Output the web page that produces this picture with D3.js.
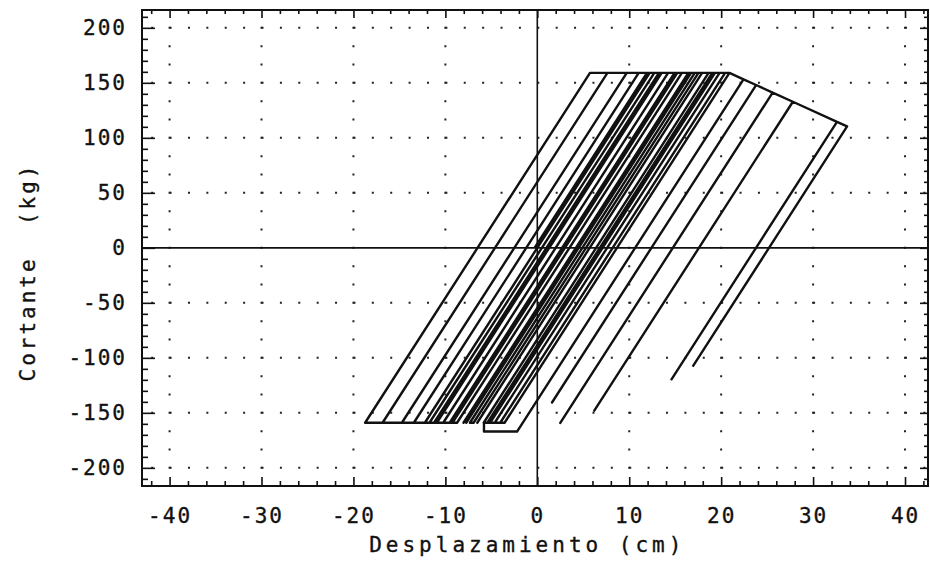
<!DOCTYPE html>
<html>
<head>
<meta charset="utf-8">
<script src="https://cdn.jsdelivr.net/npm/d3@7"></script>
<style>
    body { margin: 0; background: #fff; }
    text { font-family: "DejaVu Sans Mono", monospace; fill: #111; stroke: #111; stroke-width: 0.35; }
    .axis path { display: none; }
    .axis line { stroke: #111; stroke-width: 1.6; }
</style>
</head>
<body>
<div id="chart"></div>
<script>
// tick labels
var xTicks = [-40, -30, -20, -10, 0, 10, 20, 30, 40];
var yTicks = [-200, -150, -100, -50, 0, 50, 100, 150, 200];

// fuerza-desplazamiento (cm, kg), vertices in time order
var ciclo = [
    [-0.3, 0], [11.93, 159], [13.53, 159], [-10.93, -159], [-11.73, -159],
    [12.73, 159], [14.93, 159], [-9.53, -159], [-14.73, -159],
    [9.73, 159], [11.03, 159], [-13.43, -159], [-16.83, -159],
    [7.63, 159], [-16.83, -159], [-18.73, -159], [5.73, 159], [12.23, 159],
    [-12.23, -159], [12.23, 159], [15.73, 159], [-8.73, -159], [-11.23, -159],
    [13.23, 159], [15.23, 159], [-9.23, -159], [-10.23, -159],
    [14.23, 159], [16.43, 159], [-8.03, -159], [16.43, 159], [16.73, 159],
    [-7.73, -159], [16.73, 159], [17.53, 159], [-6.93, -159], [-7.33, -159],
    [17.13, 159], [17.93, 159], [-6.53, -159], [17.93, 159], [19.03, 159],
    [-5.43, -159], [-5.83, -159], [18.63, 159], [19.33, 159],
    [-5.13, -159], [19.33, 159], [20.43, 159], [-4.03, -159], [-4.63, -159],
    [19.83, 159], [20.9, 159], [22.43, 153.2], [20.9, 159],
    [-3.56, -159], [-5.8, -159], [-5.8, -167], [-2.2, -167],
    [22.43, 153.2], [23.8, 148.0], [1.6, -140.6], [23.8, 148.0],
    [25.6, 141.1], [2.5, -159.2], [25.6, 141.1], [27.8, 132.8],
    [6.2, -148.0], [27.8, 132.8], [32.6, 114.5], [14.6, -119.5],
    [32.6, 114.5], [33.7, 110.4], [16.9, -108.0]
];

var margin = { top: 10, left: 142, bottom: 86, right: 2 },
    width = 930 - margin.left - margin.right,
    height = 572 - margin.top - margin.bottom;

var svg = d3.select('#chart').append('svg')
    .attr('width', width + margin.left + margin.right)
    .attr('height', height + margin.top + margin.bottom)
    .append('g')
    .attr('transform', 'translate(' + margin.left + ', ' + margin.top + ')');

var x = d3.scaleLinear().domain([-43.0, 42.5]).range([0, width]);
var y = d3.scaleLinear().domain([-216.5, 216.2]).range([height, 0]);

// dotted grid
svg.selectAll('.hgrid')
    .data(yTicks.filter(d => d !== 0))
    .enter()
    .append('line')
    .attr('class', 'hgrid')
    .attr('x1', x(-42)).attr('x2', x(42.5))
    .attr('y1', d => y(d)).attr('y2', d => y(d))
    .style('stroke', '#222')
    .style('stroke-width', 2)
    .style('stroke-dasharray', '2,' + (x(2) - x(0) - 2));

svg.selectAll('.vgrid')
    .data(xTicks.filter(d => d !== 0))
    .enter()
    .append('line')
    .attr('class', 'vgrid')
    .attr('x1', d => x(d)).attr('x2', d => x(d))
    .attr('y1', y(200) - 1).attr('y2', y(-216))
    .style('stroke', '#222')
    .style('stroke-width', 2)
    .style('stroke-dasharray', '2,' + (y(0) - y(50 / 3) - 2));

// zero lines
svg.append('line')
    .attr('x1', 0).attr('x2', width)
    .attr('y1', y(0)).attr('y2', y(0))
    .style('stroke', '#111').style('stroke-width', 1.6);
svg.append('line')
    .attr('x1', x(0)).attr('x2', x(0))
    .attr('y1', 0).attr('y2', height)
    .style('stroke', '#111').style('stroke-width', 1.6);

// minor / major ticks on the four sides
var xMinor = d3.range(-42, 43, 2).filter(d => d % 10 !== 0);
var yMinor = d3.range(-210, 211, 10).filter(d => d % 50 !== 0);

function ticks(axis, tr) {
    svg.append('g').attr('class', 'axis').attr('transform', tr).call(axis)
        .selectAll('text').remove();
}
ticks(d3.axisBottom(x).tickValues(xMinor).tickSize(-5), 'translate(0,' + height + ')');
ticks(d3.axisBottom(x).tickValues(xTicks).tickSize(-9), 'translate(0,' + height + ')');
ticks(d3.axisTop(x).tickValues(xMinor).tickSize(-4), 'translate(0,0)');
ticks(d3.axisTop(x).tickValues(xTicks).tickSize(-8), 'translate(0,0)');
ticks(d3.axisLeft(y).tickValues(yMinor).tickSize(-6), 'translate(0,0)');
ticks(d3.axisLeft(y).tickValues(yTicks).tickSize(-13), 'translate(0,0)');
ticks(d3.axisRight(y).tickValues(yMinor).tickSize(-4), 'translate(' + width + ',0)');
ticks(d3.axisRight(y).tickValues(yTicks).tickSize(-8), 'translate(' + width + ',0)');

// tick labels
var xAxis = d3.axisBottom(x).tickValues(xTicks).tickSize(0).tickPadding(22)
    .tickFormat(d => String(d));
svg.append('g')
    .attr('class', 'axis')
    .attr('transform', 'translate(0,' + height + ')')
    .call(xAxis)
    .selectAll('text')
    .style('font-size', '21px')
    .style('letter-spacing', '2px');

var yAxis = d3.axisLeft(y).tickValues(yTicks).tickSize(0).tickPadding(15)
    .tickFormat(d => String(d));
svg.append('g')
    .attr('class', 'axis')
    .call(yAxis)
    .selectAll('text')
    .style('font-size', '21px')
    .style('letter-spacing', '2px');

// frame
svg.append('rect')
    .attr('x', 0).attr('y', 0)
    .attr('width', width).attr('height', height)
    .style('fill', 'none')
    .style('stroke', '#111')
    .style('stroke-width', 2);

// hysteresis curve
var line = d3.line()
    .x(d => x(d[0]))
    .y(d => y(d[1]));

svg.append('path')
    .datum(ciclo)
    .attr('d', line)
    .style('fill', 'none')
    .style('stroke', '#111')
    .style('stroke-width', 2.4)
    .style('stroke-linejoin', 'round');

// axis titles
svg.append('text')
    .attr('x', x(0) - 10)
    .attr('y', height + 66)
    .attr('text-anchor', 'middle')
    .style('font-size', '21px')
    .style('letter-spacing', '4px')
    .text('Desplazamiento (cm)');

svg.append('text')
    .attr('transform', 'translate(' + (-margin.left + 35) + ',' + 262 + ') rotate(-90)')
    .attr('text-anchor', 'middle')
    .style('font-size', '21px')
    .style('letter-spacing', '3px')
    .style('white-space', 'pre')
    .text('Cortante  (kg)');
</script>
</body>
</html>
